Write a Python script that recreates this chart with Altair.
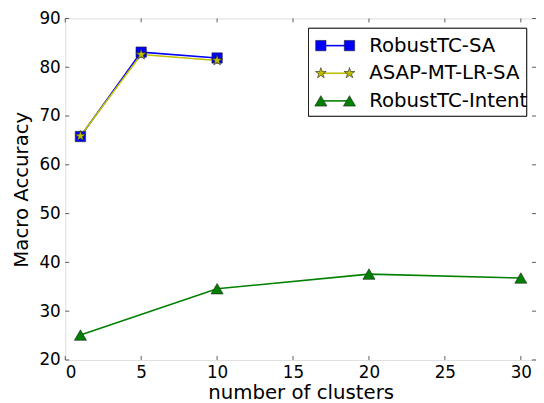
import altair as alt
import pandas as pd

FONT = "DejaVu Sans"

series_names = ["RobustTC-SA", "ASAP-MT-LR-SA", "RobustTC-Intent"]
series_colors = ["#0000ff", "#bfbf00", "#008000"]
star = ("M0,-1 L0.2245,-0.309 L0.951,-0.309 L0.363,0.118 L0.588,0.809 L0,0.382 "
        "L-0.588,0.809 L-0.363,0.118 L-0.951,-0.309 L-0.2245,-0.309 Z")
series_shapes = ["square", star, "triangle-up"]
series_sizes = [110, 150, 120]

sa_x = [1, 5, 10]
robust_sa = [65.8, 83.1, 81.9]
asap_sa = [65.9, 82.6, 81.4]
intent_x = [1, 10, 20, 30]
robust_intent = [25.1, 34.6, 37.6, 36.8]

x_ticks = [0, 5, 10, 15, 20, 25, 30]
y_ticks = [20, 30, 40, 50, 60, 70, 80, 90]

rows = []
for x, y in zip(sa_x, robust_sa):
    rows.append({"series": series_names[0], "x": x, "y": y, "order": 0})
for x, y in zip(sa_x, asap_sa):
    rows.append({"series": series_names[1], "x": x, "y": y, "order": 1})
for x, y in zip(intent_x, robust_intent):
    rows.append({"series": series_names[2], "x": x, "y": y, "order": 2})
df = pd.DataFrame(rows)

W, H = 477, 346

color = alt.Color("series:N", scale=alt.Scale(domain=series_names, range=series_colors), legend=None)
fill = alt.Fill("series:N", scale=alt.Scale(domain=series_names, range=series_colors), legend=None)
shape = alt.Shape("series:N", scale=alt.Scale(domain=series_names, range=series_shapes), legend=None)
size = alt.Size("series:N", scale=alt.Scale(domain=series_names, range=series_sizes), legend=None)

xs = alt.Scale(domain=[0, 31], nice=False, zero=False)
ys = alt.Scale(domain=[20, 90], nice=False, zero=False)

x_axis = alt.Axis(values=x_ticks, tickSize=0, domain=False, grid=False,
                  labelFontSize=17, labelPadding=5, labelColor="black",
                  labelFont=FONT, title="number of clusters",
                  titleFont=FONT, titleFontSize=20, titleFontWeight="normal",
                  titleColor="black", titlePadding=2)
y_axis = alt.Axis(values=y_ticks, tickSize=0, domain=False, grid=False,
                  labelFontSize=17, labelPadding=5, labelColor="black",
                  labelFont=FONT, title="Macro Accuracy",
                  titleFont=FONT, titleFontSize=20, titleFontWeight="normal",
                  titleColor="black", titlePadding=8)


def X(f):
    return alt.X(f, scale=xs, axis=x_axis, title="number of clusters")


def Y(f):
    return alt.Y(f, scale=ys, axis=y_axis, title="Macro Accuracy")


base = alt.Chart(df)
lines = base.mark_line(strokeWidth=1.6).encode(x=X("x:Q"), y=Y("y:Q"), color=color,
                                               detail="series:N", order="order:Q")
points = base.mark_point(filled=True, stroke="#222222", strokeWidth=0.6, opacity=1).encode(
    x=X("x:Q"), y=Y("y:Q"), fill=fill, shape=shape, size=size, order="order:Q")

xt = pd.DataFrame({"x": x_ticks})
yt = pd.DataFrame({"y": y_ticks})
tick_style = dict(color="#333333", strokeWidth=0.8)
xb = alt.Chart(xt).mark_rule(**tick_style).encode(x=X("x:Q"), y=alt.value(H), y2=alt.value(H - 4))
xtop = alt.Chart(xt).mark_rule(**tick_style).encode(x=X("x:Q"), y=alt.value(0), y2=alt.value(4))
yl = alt.Chart(yt).mark_rule(**tick_style).encode(y=Y("y:Q"), x=alt.value(0), x2=alt.value(4))
yr = alt.Chart(yt).mark_rule(**tick_style).encode(y=Y("y:Q"), x=alt.value(W), x2=alt.value(W - 4))

main = alt.layer(xb, xtop, yl, yr, lines, points)

# legend
leg_df = pd.DataFrame({"series": series_names})
ly = alt.Y("series:N", scale=alt.Scale(type="point", domain=series_names, range=[27.5, 83.5], padding=0),
           axis=None)
box = alt.Chart(leg_df).mark_rect(fill="white", stroke="black", strokeWidth=0.8).encode(
    x=alt.value(246.5), x2=alt.value(467.5), y=alt.value(10), y2=alt.value(99))
leg_line = alt.Chart(leg_df).mark_rule(strokeWidth=1.6).encode(
    x=alt.value(259), x2=alt.value(288), y=ly, color=color)
leg_p1 = alt.Chart(leg_df).mark_point(filled=True, stroke="#222222", strokeWidth=0.6, opacity=1).encode(
    x=alt.value(259), y=ly, fill=fill, shape=shape, size=size)
leg_p2 = alt.Chart(leg_df).mark_point(filled=True, stroke="#222222", strokeWidth=0.6, opacity=1).encode(
    x=alt.value(288), y=ly, fill=fill, shape=shape, size=size)
leg_text = alt.Chart(leg_df).mark_text(align="left", baseline="middle", font=FONT, fontSize=20,
                                       color="black").encode(x=alt.value(308), y=ly, text="series:N")
legend = alt.layer(box, leg_line, leg_p1, leg_p2, leg_text)

chart = alt.layer(main, legend).resolve_scale(y="independent").properties(
    width=W, height=H,
    autosize=alt.AutoSizeParams(type="none"),
    padding={"left": 58, "top": 8, "right": 0, "bottom": 41},
).configure_view(stroke="black", strokeWidth=1).configure(background="white")

chart.save("out.html", embed_options={"renderer": "svg", "actions": False})
